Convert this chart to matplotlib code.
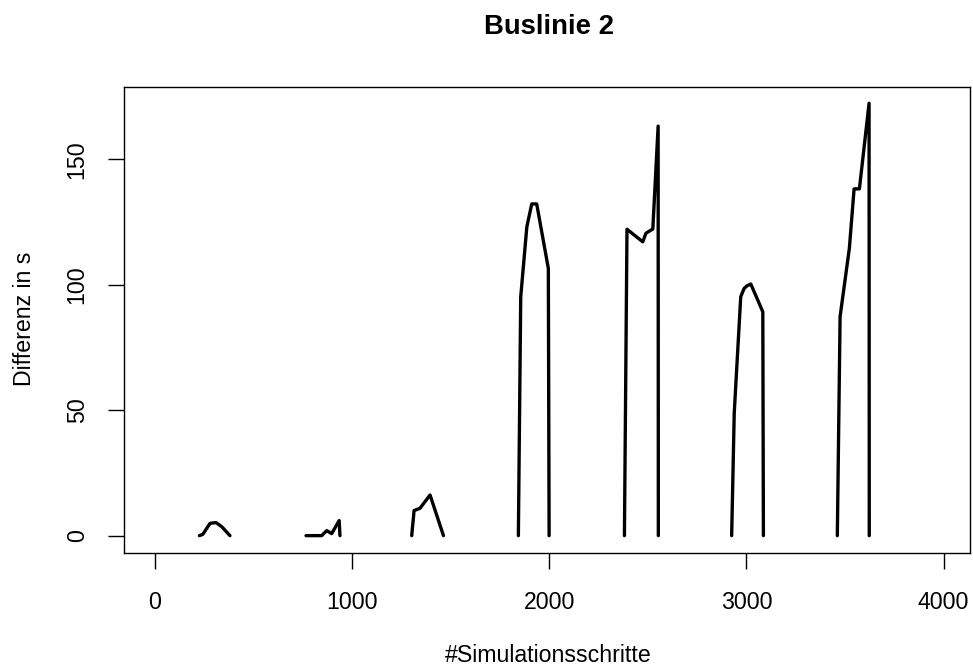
import numpy as np
import matplotlib.pyplot as plt

plt.rcParams['font.family'] = ['Liberation Sans', 'DejaVu Sans']

# Differenz je Haltestellenabschnitt (einzelne Abschnitte, dazwischen keine Werte)
steps_1 = [225, 242, 279, 309, 338, 380]
diff_1 = [0, 0.5, 4.9, 5.2, 3.6, 0]

steps_2 = [766, 845, 871, 896, 934, 938]
diff_2 = [0, 0, 2.0, 0.8, 6.0, 0]

steps_3 = [1302, 1314, 1344, 1395, 1463]
diff_3 = [0, 10.0, 10.9, 16.2, 0]

steps_4 = [1843, 1855, 1886, 1911, 1936, 1995, 1999]
diff_4 = [0, 95.2, 123.1, 132.2, 132.2, 106.5, 0]

steps_5 = [2381, 2394, 2474, 2490, 2502, 2525, 2552, 2553]
diff_5 = [0, 122.1, 117.1, 120.5, 121.1, 122.2, 163.2, 0]

steps_6 = [2925, 2938, 2971, 2988, 3002, 3022, 3083, 3086]
diff_6 = [0, 48.8, 95.2, 98.5, 99.5, 100.3, 89.2, 0]

steps_7 = [3461, 3475, 3522, 3546, 3573, 3622, 3623]
diff_7 = [0, 87.3, 114.5, 138.2, 138.2, 172.3, 0]

runs = [(steps_1, diff_1), (steps_2, diff_2), (steps_3, diff_3), (steps_4, diff_4),
        (steps_5, diff_5), (steps_6, diff_6), (steps_7, diff_7)]

x_ticks = [0, 1000, 2000, 3000, 4000]
y_ticks = [0, 50, 100, 150]

fig = plt.figure(figsize=(9.73, 6.71), dpi=100)
ax = fig.add_axes([123.7 / 973, 1 - 552.7 / 671, (970 - 123.7) / 973, (552.7 - 87) / 671])

for xs, ys in runs:
    ax.plot(xs, ys, color='black', linewidth=2.4, solid_joinstyle='round', solid_capstyle='round')

ax.set_xlim(-159, 4134)
ax.set_ylim(-6.8, 178.8)
ax.set_xticks(x_ticks)
ax.set_yticks(y_ticks)
ax.set_xticklabels([str(t) for t in x_ticks], fontsize=16.7)
ax.set_yticklabels([str(t) for t in y_ticks], fontsize=16.7, rotation=90, va='center')
ax.tick_params(axis='both', direction='out', length=11.5, width=1.0, color='black')
ax.tick_params(axis='x', pad=15.8)
ax.tick_params(axis='y', pad=13.7)

# R-artige Achsen: Box rundum, Ticks nur links/unten
for s in ax.spines.values():
    s.set_linewidth(1.0)

fig.text(549 / 973, 1 - 26.7 / 671, 'Buslinie 2', fontsize=19.8, fontweight='bold',
         ha='center', va='center')
fig.text(548 / 973, 1 - 655 / 671, '#Simulationsschritte', fontsize=16.7, ha='center', va='center')
fig.text(25 / 973, 1 - 319 / 671, 'Differenz in s', fontsize=16.7, rotation=90,
         ha='center', va='center')

fig.savefig('out.png', dpi=100)
